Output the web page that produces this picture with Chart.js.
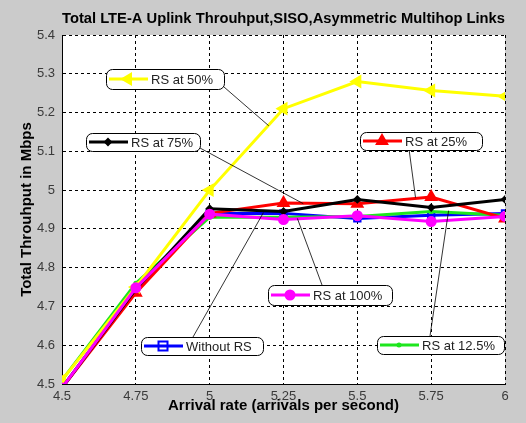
<!DOCTYPE html>
<html>
<head>
<meta charset="utf-8">
<script src="https://cdn.jsdelivr.net/npm/chart.js@4/dist/chart.umd.min.js"></script>
<style>
  body { margin: 0; background: #cbcbcb; }
  canvas { display: block; }
</style>
</head>
<body>
<canvas id="chart" width="526" height="423"></canvas>
<script>
// ===============================
// Data
// ===============================
const arrivalRates = [4.5, 4.75, 5, 5.25, 5.5, 5.75, 6];
const withoutRS = [4.49, 4.745, 4.94, 4.94, 4.927, 4.935, 4.94];
const rsAt125 = [4.51, 4.76, 4.93, 4.93, 4.932, 4.945, 4.935];
const rsAt25 = [4.49, 4.735, 4.94, 4.967, 4.965, 4.982, 4.927];
const rsAt50 = [4.51, 4.75, 5.0, 5.21, 5.28, 5.257, 5.242];
const rsAt75 = [4.49, 4.745, 4.952, 4.945, 4.976, 4.955, 4.976];
const rsAt100 = [4.49, 4.748, 4.938, 4.924, 4.934, 4.919, 4.932];

const xTicks = [4.5, 4.75, 5, 5.25, 5.5, 5.75, 6];
const xTickLabels = ["4.5", "4.75", "5", "5.25", "5.5", "5.75", "6"];
const yTicks = [4.5, 4.6, 4.7, 4.8, 4.9, 5, 5.1, 5.2, 5.3, 5.4];
const yTickLabels = ["4.5", "4.6", "4.7", "4.8", "4.9", "5", "5.1", "5.2", "5.3", "5.4"];

const FONT = "'Liberation Sans', Arial, sans-serif";

// series styles, in plotting order (last one on top)
const series = [
  { label: "Without RS", data: withoutRS, color: "#0000ff", style: "rect", radius: 4.5, fill: "rgba(0,0,0,0)", rot: 0 },
  { label: "RS at 12.5%", data: rsAt125, color: "#1ee61e", style: "circle", radius: 1.5, fill: "#1ee61e", rot: 0 },
  { label: "RS at 25%", data: rsAt25, color: "#ff0000", style: "triangle", radius: 6, fill: "#ff0000", rot: 0 },
  { label: "RS at 50%", data: rsAt50, color: "#ffff00", style: "triangle", radius: 6, fill: "#ffff00", rot: -90 },
  { label: "RS at 75%", data: rsAt75, color: "#000000", style: "rectRot", radius: 3, fill: "#000000", rot: 0 },
  { label: "RS at 100%", data: rsAt100, color: "#ff00ff", style: "circle", radius: 4.5, fill: "#ff00ff", rot: 0 }
];

// ===============================
// Text boxes with pointer lines
// ===============================
const notes = [
  { series: 3, box: [106, 69, 118, 20], from: [224, 87], at: [5.2, 5.166] },
  { series: 4, box: [86, 133, 114, 18], from: [200, 148], at: [5.317, 4.965] },
  { series: 2, box: [360, 132, 122, 18], from: [409, 149], at: [5.697, 4.981] },
  { series: 5, box: [268, 285, 124, 20], from: [322, 285], at: [5.297, 4.927] },
  { series: 0, box: [141, 337, 122, 18], from: [193, 337], at: [5.182, 4.942] },
  { series: 1, box: [377, 336, 127, 18], from: [430, 336], at: [5.809, 4.947] }
];

function drawMarker(ctx, s, x, y) {
  const r = s.radius;
  const rad = s.rot * Math.PI / 180;
  ctx.save();
  ctx.fillStyle = s.fill;
  ctx.strokeStyle = s.color;
  ctx.lineWidth = 2;
  ctx.beginPath();
  if (s.style === "triangle") {
    for (let k = 0; k < 3; k++) {
      const a = rad + k * 2 * Math.PI / 3;
      const px = x + Math.sin(a) * r, py = y - Math.cos(a) * r;
      k === 0 ? ctx.moveTo(px, py) : ctx.lineTo(px, py);
    }
    ctx.closePath();
  } else if (s.style === "rect") {
    ctx.rect(x - r, y - r, 2 * r, 2 * r);
  } else if (s.style === "rectRot") {
    ctx.moveTo(x, y - r); ctx.lineTo(x + r, y); ctx.lineTo(x, y + r); ctx.lineTo(x - r, y); ctx.closePath();
  } else {
    ctx.arc(x, y, r, 0, Math.PI * 2);
  }
  ctx.fill();
  ctx.stroke();
  ctx.restore();
}

const backgroundPlugin = {
  id: "background",
  beforeDraw(chart) {
    const { ctx, chartArea: a } = chart;
    ctx.save();
    ctx.fillStyle = "#cbcbcb";
    ctx.fillRect(0, 0, chart.width, chart.height);
    ctx.fillStyle = "#ffffff";
    ctx.fillRect(a.left, a.top, a.right - a.left, a.bottom - a.top);
    ctx.restore();
  }
};

const notesPlugin = {
  id: "notes",
  afterDatasetsDraw(chart) {
    const { ctx, scales } = chart;
    notes.forEach(n => {
      const s = series[n.series];
      const [bx, by, bw, bh] = n.box;
      const ax = scales.x.getPixelForValue(n.at[0]);
      const ay = scales.y.getPixelForValue(n.at[1]);

      // pointer line
      ctx.save();
      ctx.strokeStyle = "#000";
      ctx.lineWidth = 0.8;
      ctx.beginPath();
      ctx.moveTo(n.from[0], n.from[1]);
      ctx.lineTo(ax, ay);
      ctx.stroke();

      // box
      ctx.fillStyle = "#ffffff";
      ctx.strokeStyle = "#000";
      ctx.lineWidth = 1;
      ctx.beginPath();
      ctx.roundRect(bx + 0.5, by + 0.5, bw, bh, 6);
      ctx.fill();
      ctx.stroke();

      // sample line + marker
      const cy = by + bh / 2;
      ctx.strokeStyle = s.color;
      ctx.lineWidth = 3;
      ctx.beginPath();
      ctx.moveTo(bx + 3, cy);
      ctx.lineTo(bx + 42, cy);
      ctx.stroke();
      drawMarker(ctx, s, bx + 22, cy);

      // label
      ctx.fillStyle = "#222";
      ctx.font = "13px " + FONT;
      ctx.textBaseline = "middle";
      ctx.fillText(s.label, bx + 45, cy + 1);
      ctx.restore();
    });
  }
};

new Chart(document.getElementById("chart"), {
  type: "line",
  data: {
    datasets: series.map((s, i) => ({
      label: s.label,
      data: s.data.map((v, j) => ({ x: arrivalRates[j], y: v })),
      borderColor: s.color,
      borderWidth: 3,
      backgroundColor: s.fill,
      pointStyle: s.style,
      pointRadius: s.radius,
      pointRotation: s.rot,
      pointBackgroundColor: s.fill,
      pointBorderColor: s.color,
      pointBorderWidth: 2,
      tension: 0,
      order: series.length - i
    }))
  },
  options: {
    responsive: false,
    animation: false,
    layout: { padding: { left: 0, right: 21, top: 0, bottom: 0 } },
    plugins: {
      legend: { display: false },
      tooltip: { enabled: false },
      title: {
        display: true,
        fullSize: false,
        text: "Total LTE-A Uplink Throuhput,SISO,Asymmetric Multihop Links",
        color: "#000",
        font: { family: FONT, size: 15, weight: "bold" },
        padding: { top: 10, bottom: 7 }
      }
    },
    scales: {
      x: {
        type: "linear",
        min: 4.5,
        max: 6,
        afterBuildTicks: s => { s.ticks = xTicks.map(v => ({ value: v })); },
        afterFit: s => { s.height = 39; },
        ticks: {
          callback: (v, i) => xTickLabels[i],
          color: "#3a3a3a",
          font: { family: FONT, size: 13 },
          padding: 5,
          maxRotation: 0,
          autoSkip: false
        },
        grid: { color: "#000", lineWidth: 1, drawTicks: false },
        border: { display: true, color: "#000", width: 1, dash: [3, 3] },
        title: {
          display: true,
          text: "Arrival rate (arrivals per second)",
          color: "#000",
          font: { family: FONT, size: 15, weight: "bold" },
          padding: { top: 0, bottom: 8 }
        }
      },
      y: {
        type: "linear",
        min: 4.5,
        max: 5.4,
        afterBuildTicks: s => { s.ticks = yTicks.map(v => ({ value: v })); },
        afterFit: s => { s.width = 62; },
        ticks: {
          callback: (v, i) => yTickLabels[i],
          color: "#3a3a3a",
          font: { family: FONT, size: 13 },
          padding: 7,
          autoSkip: false
        },
        grid: { color: "#000", lineWidth: 1, drawTicks: false },
        border: { display: true, color: "#000", width: 1, dash: [3, 3] },
        title: {
          display: true,
          text: "Total Throuhput in Mbps",
          color: "#000",
          font: { family: FONT, size: 15, weight: "bold" },
          padding: { top: 18, bottom: 0 }
        }
      }
    }
  },
  plugins: [backgroundPlugin, notesPlugin]
});
</script>
</body>
</html>
